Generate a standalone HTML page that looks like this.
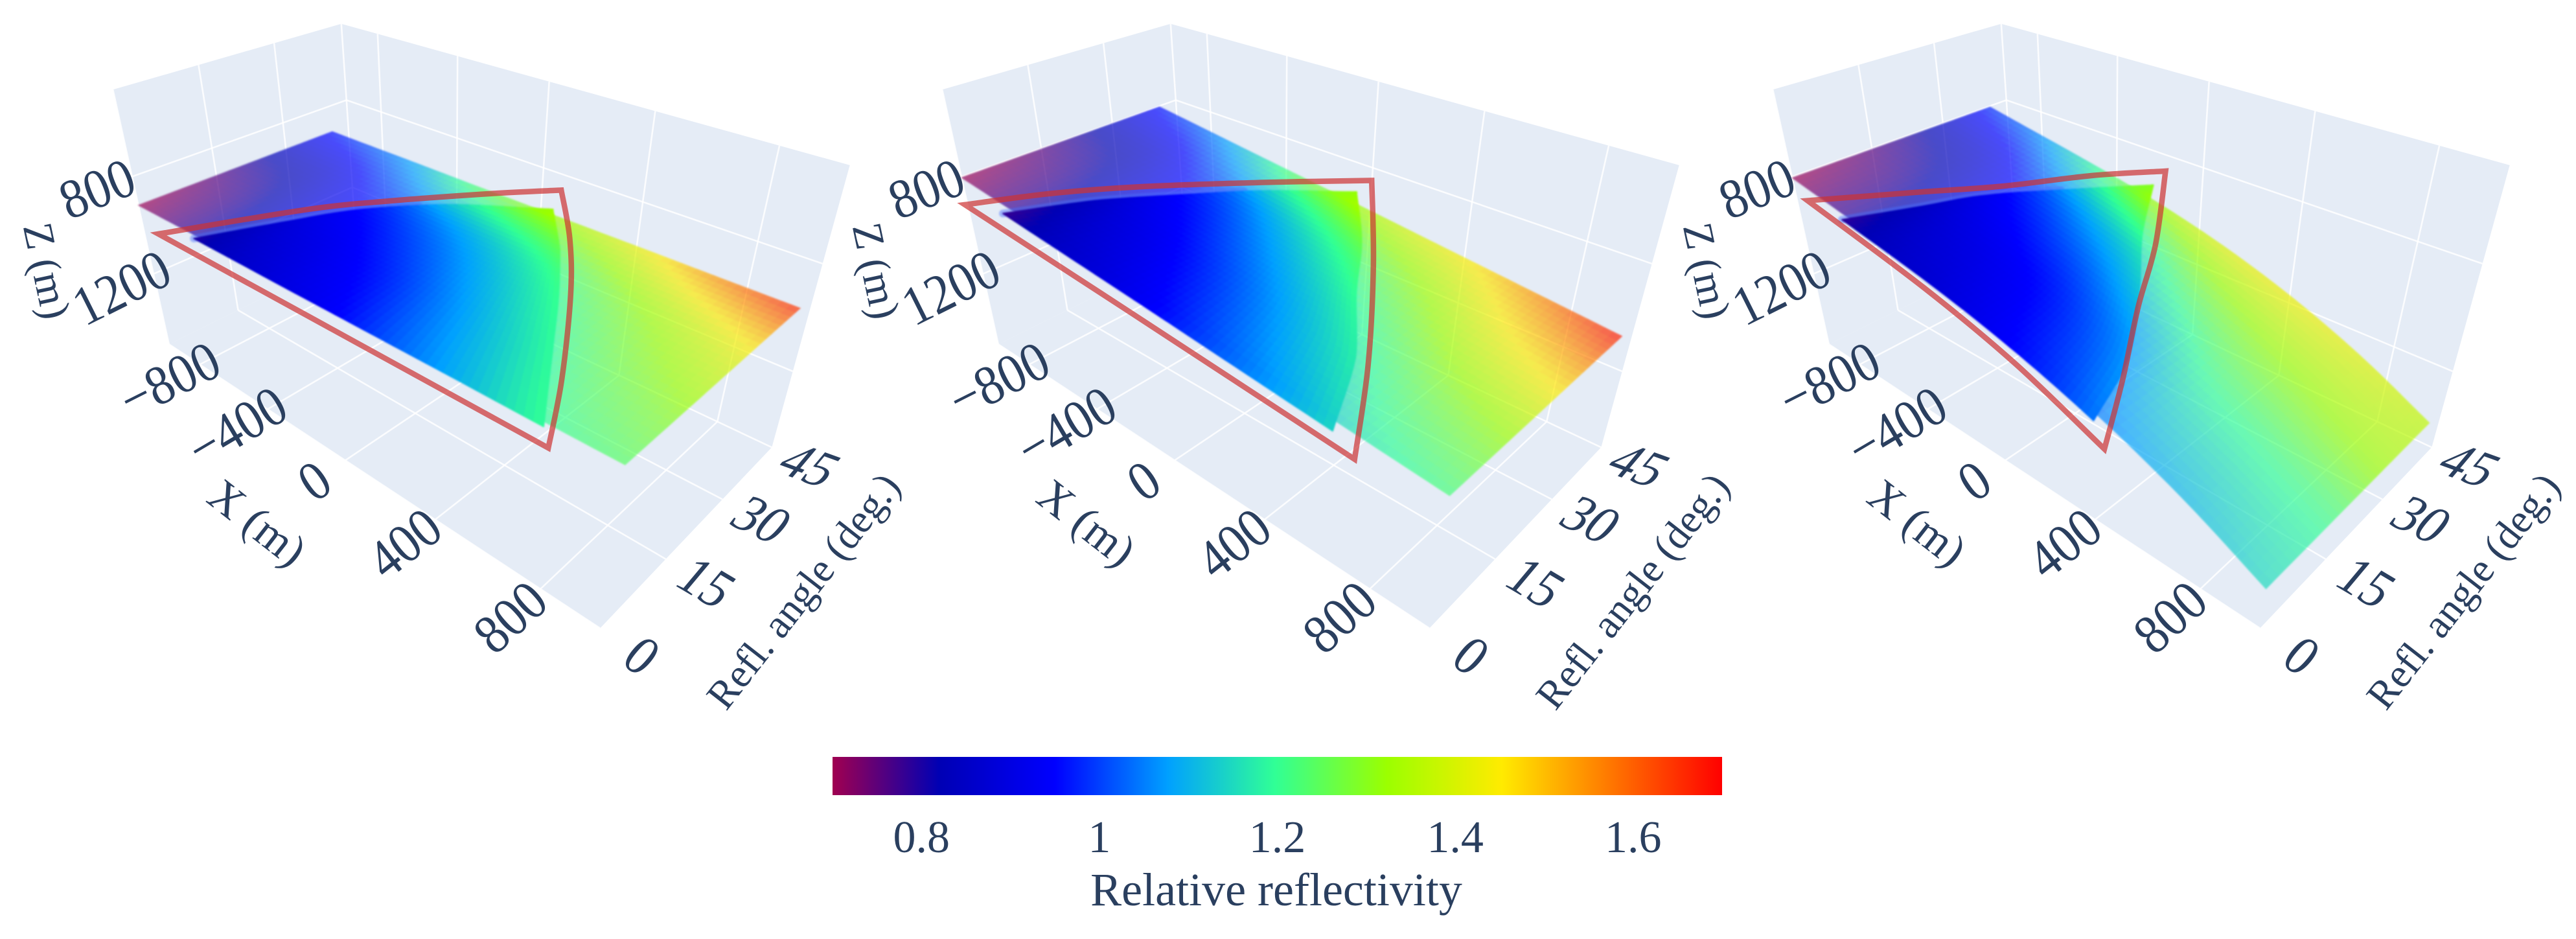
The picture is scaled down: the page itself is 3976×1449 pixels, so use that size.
<!DOCTYPE html>
<html lang="en">
<head>
<meta charset="utf-8">
<title>Relative reflectivity surfaces</title>
<style>
html,body{margin:0;padding:0;background:#fff;}
#chart{position:absolute;left:0;top:0;display:block;}
text{font-family:"Liberation Serif",serif;fill:#2a3f5f;}
.soft{filter:blur(1.4px);}
</style>
</head>
<body>
<svg id="chart" xmlns="http://www.w3.org/2000/svg" width="3976" height="1449" viewBox="0 0 3976 1449">
  <defs><linearGradient id="cbar-gradient" x1="0" x2="1" y1="0" y2="0"></linearGradient></defs>
  <g id="panels"></g>
  <g id="colorbar">
    <rect id="cbar-rect" x="1285" y="1168" width="1373" height="59" fill="url(#cbar-gradient)"></rect>
    <text x="1970" y="1397" font-size="72" text-anchor="middle">Relative reflectivity</text>
  </g>
</svg>
<script>
// ---- axes ----
const xRange = [-1000, 1000];
const angleRange = [0, 45];
const zRange = [486, 1527];
const xTicks = [-800, -400, 0, 400, 800];
const angleTicks = [0, 15, 30, 45];
const zTicks = [800, 1200];
const colorTicks = [0.8, 1, 1.2, 1.4, 1.6];
const colorRange = [0.7, 1.7];
const colorStopValues = [0.7, 0.82, 0.95, 1.077, 1.197, 1.323, 1.452, 1.7];
const colorStopColors = ['#a00050', '#0000b4', '#0000ff', '#00a0ff', '#30ff96', '#9bff00', '#ffeb00', '#ff0000'];

// ---- surface data ----
const surfaceX = [-1000, -750, -500, -250, 0, 250, 500, 750, 1000];
const surfaceAngle = [0, 14, 28, 41];
const depthA = [912, 912, 912, 913, 913, 913, 913, 914, 914];
const depthB = [804, 830, 856, 882, 908, 935, 962, 989, 1016];
const depthC = [805, 843, 881, 923, 975, 1041, 1125, 1231, 1361];
const reflectivityA = [
  [0.70, 0.77, 0.84, 0.89, 0.94, 1.02, 1.10, 1.19, 1.24],
  [0.75, 0.80, 0.89, 0.94, 1.00, 1.08, 1.17, 1.26, 1.33],
  [0.83, 0.87, 0.96, 1.03, 1.10, 1.18, 1.27, 1.36, 1.45],
  [0.96, 1.02, 1.10, 1.22, 1.30, 1.36, 1.44, 1.55, 1.66]
];
const reflectivityB = [
  [0.70, 0.77, 0.84, 0.89, 0.95, 1.02, 1.09, 1.17, 1.22],
  [0.75, 0.80, 0.89, 0.95, 1.02, 1.10, 1.19, 1.28, 1.34],
  [0.83, 0.87, 0.97, 1.05, 1.14, 1.23, 1.32, 1.42, 1.50],
  [0.96, 1.03, 1.13, 1.25, 1.33, 1.40, 1.46, 1.56, 1.68]
];
const reflectivityC = [
  [0.70, 0.77, 0.84, 0.88, 0.93, 0.99, 1.07, 1.11, 1.15],
  [0.75, 0.80, 0.89, 0.94, 0.99, 1.07, 1.17, 1.20, 1.21],
  [0.83, 0.88, 0.98, 1.06, 1.14, 1.24, 1.30, 1.32, 1.33],
  [0.98, 1.05, 1.16, 1.28, 1.37, 1.42, 1.43, 1.41, 1.37]
];

// ---- illuminated fan: x extent per reflection angle ----
const fanAngleA = [-0.7, 11, 22, 33, 42.5];
const fanLeftA = [-651, -530, -405, -200, 90];
const fanRightA = [778, 610, 450, 275, 90];
const fanAngleB = [-1.5, 11, 22, 33, 44];
const fanLeftB = [-716, -590, -434, -265, -48];
const fanRightB = [670, 525, 335, 165, -48];
const fanAngleC = [-1, 10, 20, 32, 44.4];
const fanLeftC = [-690, -600, -520, -370, -210];
const fanRightC = [420, 330, 180, -30, -210];

// ---- aperture outline: x / angle vertices along each side ----
const outlineTopXA = [-765, -537, -370, -145, 20];
const outlineTopAngleA = [-3.4, 16.8, 27.8, 40.6, 49];
const outlineRightXA = [20, 258, 467, 697, 834];
const outlineRightAngleA = [49, 36.5, 23.7, 7.6, -3.2];
const outlineBottomXA = [834, 30, -765];
const outlineBottomAngleA = [-3.2, -3.3, -3.4];
const outlineTopXB = [-840, -720, -555, -310, -65];
const outlineTopAngleB = [-4.2, 7.4, 19.6, 34.8, 49];
const outlineRightXB = [-65, 280, 572, 770];
const outlineRightAngleB = [49, 29.1, 10.8, -3.2];
const outlineBottomXB = [770, -40, -840];
const outlineBottomAngleB = [-3.2, -3.7, -4.2];
const outlineTopXC = [-850, -680, -530, -390, -246];
const outlineTopAngleC = [-1.9, 12, 24, 38, 49.6];
const outlineRightXC = [-246, 30, 200, 370, 500];
const outlineRightAngleC = [49.6, 32, 19, 7, -3];
const outlineBottomXC = [500, 150, -250, -850];
const outlineBottomAngleC = [-3, -2.5, -2.2, -1.9];

// ---- layout ----
const NS = 'http://www.w3.org/2000/svg';
const WALL = '#e5ecf6';
const panelsRoot = document.getElementById('panels');

const panels = [
  { key: 'a', shift: 0, depth: depthA, table: reflectivityA, fanA: fanAngleA, fanL: fanLeftA, fanR: fanRightA,
    top: [outlineTopXA, outlineTopAngleA], right: [outlineRightXA, outlineRightAngleA], bottom: [outlineBottomXA, outlineBottomAngleA] },
  { key: 'b', shift: 1280, depth: depthB, table: reflectivityB, fanA: fanAngleB, fanL: fanLeftB, fanR: fanRightB,
    top: [outlineTopXB, outlineTopAngleB], right: [outlineRightXB, outlineRightAngleB], bottom: [outlineBottomXB, outlineBottomAngleB] },
  { key: 'c', shift: 2562, depth: depthC, table: reflectivityC, fanA: fanAngleC, fanL: fanLeftC, fanR: fanRightC,
    top: [outlineTopXC, outlineTopAngleC], right: [outlineRightXC, outlineRightAngleC], bottom: [outlineBottomXC, outlineBottomAngleC] }
];

// ---- camera calibration from the visible box corners (u: x, v: angle, w: height) ----
function solveCamera(corners) {
  const A = [], b = [];
  corners.forEach(function (c) {
    const X = c[0], Y = c[1], Z = c[2], u = c[3] / 1000, v = c[4] / 1000;
    A.push([X, Y, Z, 1, 0, 0, 0, 0, -u * X, -u * Y, -u * Z]); b.push(u);
    A.push([0, 0, 0, 0, X, Y, Z, 1, -v * X, -v * Y, -v * Z]); b.push(v);
  });
  const n = 11, M = [];
  for (let i = 0; i < n; i++) {
    M.push(new Array(n + 1).fill(0));
    for (let j = 0; j < n; j++) for (let k = 0; k < A.length; k++) M[i][j] += A[k][i] * A[k][j];
    for (let k = 0; k < A.length; k++) M[i][n] += A[k][i] * b[k];
  }
  for (let i = 0; i < n; i++) {
    let p = i;
    for (let r = i + 1; r < n; r++) if (Math.abs(M[r][i]) > Math.abs(M[p][i])) p = r;
    const t = M[i]; M[i] = M[p]; M[p] = t;
    for (let r = 0; r < n; r++) {
      if (r === i) continue;
      const f = M[r][i] / M[i][i];
      for (let c = i; c <= n; c++) M[r][c] -= f * M[i][c];
    }
  }
  return M.map(function (row, i) { return row[n] / row[i]; });
}
const camera = solveCamera([
  [0, 0, 0, 261, 532],
  [1, 0, 0, 925, 970],
  [1, 1, 0, 1192, 689],
  [0, 0, 1, 175, 137],
  [0, 1, 1, 526, 37],
  [1, 1, 1, 1312, 256]
]);

function project(x, angle, z, shift) {
  const X = (x - xRange[0]) / (xRange[1] - xRange[0]);
  const Y = (angle - angleRange[0]) / (angleRange[1] - angleRange[0]);
  const Z = (zRange[1] - z) / (zRange[1] - zRange[0]);
  const d = camera[8] * X + camera[9] * Y + camera[10] * Z + 1;
  return [
    1000 * (camera[0] * X + camera[1] * Y + camera[2] * Z + camera[3]) / d + shift,
    1000 * (camera[4] * X + camera[5] * Y + camera[6] * Z + camera[7]) / d
  ];
}

function locate(arr, v) {
  let i = 0;
  while (i < arr.length - 2 && v > arr[i + 1]) i++;
  const t = (v - arr[i]) / (arr[i + 1] - arr[i]);
  return [i, Math.max(0, Math.min(1, t))];
}
function lerp(a, b, t) { return a + (b - a) * t; }
// smooth (Catmull-Rom) reading of a small x/y table, with straight run-out at the ends
function sampleSmooth(xs, ys, v) {
  const l = locate(xs, v), i = l[0], t = l[1];
  const y1 = ys[i], y2 = ys[i + 1];
  const y0 = i > 0 ? ys[i - 1] : 2 * y1 - y2;
  const y3 = i + 2 < ys.length ? ys[i + 2] : 2 * y2 - y1;
  return 0.5 * (2 * y1 + (y2 - y0) * t + (2 * y0 - 5 * y1 + 4 * y2 - y3) * t * t + (3 * y1 - y0 - 3 * y2 + y3) * t * t * t);
}
function sampleDepth(depth, x) {
  const cx = Math.max(surfaceX[0], Math.min(surfaceX[surfaceX.length - 1], x));
  return sampleSmooth(surfaceX, depth, cx);
}
function sampleTable(table, x, angle) {
  const rows = table.map(function (row) { return sampleSmooth(surfaceX, row, x); });
  return sampleSmooth(surfaceAngle, rows, angle);
}
function hexToRgb(h) {
  return [parseInt(h.slice(1, 3), 16), parseInt(h.slice(3, 5), 16), parseInt(h.slice(5, 7), 16)];
}
const stopRgb = colorStopColors.map(hexToRgb);
function colorFor(v) {
  const l = locate(colorStopValues, v);
  const c0 = stopRgb[l[0]], c1 = stopRgb[l[0] + 1];
  return 'rgb(' + Math.round(lerp(c0[0], c1[0], l[1])) + ',' + Math.round(lerp(c0[1], c1[1], l[1])) + ',' + Math.round(lerp(c0[2], c1[2], l[1])) + ')';
}
function pts(list) {
  return list.map(function (p) { return p[0].toFixed(1) + ',' + p[1].toFixed(1); }).join(' ');
}
function smooth(list) {
  let d = '';
  for (let i = 0; i < list.length - 1; i++) {
    const p0 = list[Math.max(0, i - 1)], p1 = list[i], p2 = list[i + 1], p3 = list[Math.min(list.length - 1, i + 2)];
    const c1 = [p1[0] + (p2[0] - p0[0]) / 6, p1[1] + (p2[1] - p0[1]) / 6];
    const c2 = [p2[0] - (p3[0] - p1[0]) / 6, p2[1] - (p3[1] - p1[1]) / 6];
    d += ' C' + c1[0].toFixed(1) + ' ' + c1[1].toFixed(1) + ' ' + c2[0].toFixed(1) + ' ' + c2[1].toFixed(1) + ' ' + p2[0].toFixed(1) + ' ' + p2[1].toFixed(1);
  }
  return d;
}
function make(tag, parent) {
  const el = document.createElementNS(NS, tag);
  parent.appendChild(el);
  return el;
}
function placeText(el, str, pos, size, beta, gamma, stretch) {
  const b = beta * Math.PI / 180, g = gamma * Math.PI / 180;
  el.textContent = str;
  el.setAttribute('font-size', size);
  el.setAttribute('text-anchor', 'middle');
  el.setAttribute('y', (size * 0.33).toFixed(1));
  el.setAttribute('transform', 'matrix(' + Math.cos(b).toFixed(4) + ' ' + Math.sin(b).toFixed(4) + ' ' +
    (-Math.sin(g) * stretch).toFixed(4) + ' ' + (Math.cos(g) * stretch).toFixed(4) + ' ' + pos[0].toFixed(1) + ' ' + pos[1].toFixed(1) + ')');
}

function gridLine(parent, a, b, name) {
  const el = make('line', parent);
  
  
  el.setAttribute('x1', a[0].toFixed(1));
  el.setAttribute('y1', a[1].toFixed(1));
  el.setAttribute('x2', b[0].toFixed(1));
  el.setAttribute('y2', b[1].toFixed(1));
  el.setAttribute('stroke', '#ffffff');
  el.setAttribute('stroke-width', '2.6');
  el.setAttribute('stroke-opacity', '0.85');
}

function drawPanel(p) {
  const s = p.shift, floorZ = zRange[1], roofZ = zRange[0];
  const xMin = xRange[0], xMax = xRange[1], aMin = angleRange[0], aMax = angleRange[1];
  const g = make('g', panelsRoot);
  
  

  // walls
  const wallLeft = make('polygon', g);
  
  
  wallLeft.setAttribute('fill', WALL);
  wallLeft.setAttribute('points', pts([project(xMin, aMin, roofZ, s), project(xMin, aMax, roofZ, s), project(xMin, aMax, floorZ, s), project(xMin, aMin, floorZ, s)]));
  const wallBack = make('polygon', g);
  
  
  wallBack.setAttribute('fill', WALL);
  wallBack.setAttribute('points', pts([project(xMin, aMax, roofZ, s), project(xMax, aMax, roofZ, s), project(xMax, aMax, floorZ, s), project(xMin, aMax, floorZ, s)]));
  const floor = make('polygon', g);
  
  
  floor.setAttribute('fill', WALL);
  floor.setAttribute('points', pts([project(xMin, aMin, floorZ, s), project(xMin, aMax, floorZ, s), project(xMax, aMax, floorZ, s), project(xMax, aMin, floorZ, s)]));

  // gridlines
  const grid = make('g', g);
  
  
  xTicks.forEach(function (x) {
    gridLine(grid, project(x, aMin, floorZ, s), project(x, aMax, floorZ, s), 'x-grid-floor');
    gridLine(grid, project(x, aMax, floorZ, s), project(x, aMax, roofZ, s), 'x-grid-wall');
  });
  angleTicks.forEach(function (a) {
    gridLine(grid, project(xMin, a, floorZ, s), project(xMax, a, floorZ, s), 'angle-grid-floor');
    gridLine(grid, project(xMin, a, floorZ, s), project(xMin, a, roofZ, s), 'angle-grid-wall');
  });
  zTicks.forEach(function (z) {
    gridLine(grid, project(xMin, aMin, z, s), project(xMin, aMax, z, s), 'z-grid-left');
    gridLine(grid, project(xMin, aMax, z, s), project(xMax, aMax, z, s), 'z-grid-back');
  });

  // translucent surface
  const surf = make('g', g);
  
  
  surf.setAttribute('opacity', '0.68');
  surf.setAttribute('class', 'soft');
  const nu = 72, nv = 30;
  const sx0 = surfaceX[0], sx1 = surfaceX[surfaceX.length - 1], sa0 = surfaceAngle[0], sa1 = surfaceAngle[surfaceAngle.length - 1];
  for (let i = 0; i < nu; i++) {
    for (let j = 0; j < nv; j++) {
      const x0 = lerp(sx0, sx1, i / nu), x1 = lerp(sx0, sx1, (i + 1) / nu);
      const a0 = lerp(sa0, sa1, j / nv), a1 = lerp(sa0, sa1, (j + 1) / nv);
      const c = colorFor(sampleTable(p.table, (x0 + x1) / 2, (a0 + a1) / 2));
      const cell = make('polygon', surf);
      
      
      cell.setAttribute('fill', c);
      cell.setAttribute('stroke', c);
      cell.setAttribute('stroke-width', '1');
      cell.setAttribute('points', pts([
        project(x0, a0, sampleDepth(p.depth, x0), s), project(x1, a0, sampleDepth(p.depth, x1), s),
        project(x1, a1, sampleDepth(p.depth, x1), s), project(x0, a1, sampleDepth(p.depth, x0), s)]));
    }
  }

  // illuminated fan
  const fan = make('g', g);
  
  
  fan.setAttribute('class', 'soft');
  const fanRows = 40, fanCols = 48;
  const fa0 = p.fanA[0], fa1 = p.fanA[p.fanA.length - 1];
  function fanPoint(r, c) {
    const a = lerp(fa0, fa1, r / fanRows);
    const x = lerp(sampleSmooth(p.fanA, p.fanL, a), sampleSmooth(p.fanA, p.fanR, a), c / fanCols);
    return [x, a];
  }
  // pale rim along the upper side of the fan
  const haloPts = [];
  for (let r = 0; r <= Math.round(fanRows * 0.7); r += 2) {
    const q = fanPoint(r, 0);
    haloPts.push(project(q[0], q[1], sampleDepth(p.depth, q[0]), s));
  }
  const halo = make('polyline', fan);
  
  
  halo.setAttribute('fill', 'none');
  halo.setAttribute('stroke', 'rgb(70,110,255)');
  halo.setAttribute('stroke-opacity', '0.45');
  halo.setAttribute('stroke-width', '12');
  halo.setAttribute('stroke-linecap', 'round');
  halo.setAttribute('points', pts(haloPts));
  for (let r = 0; r < fanRows; r++) {
    for (let c = 0; c < fanCols; c++) {
      const q00 = fanPoint(r, c), q10 = fanPoint(r, c + 1), q11 = fanPoint(r + 1, c + 1), q01 = fanPoint(r + 1, c);
      const col = colorFor(sampleTable(p.table, (q00[0] + q11[0]) / 2, (q00[1] + q11[1]) / 2));
      const cell = make('polygon', fan);
      
      
      cell.setAttribute('fill', col);
      cell.setAttribute('stroke', col);
      cell.setAttribute('stroke-width', '2');
      cell.setAttribute('stroke-linejoin', 'round');
      cell.setAttribute('points', pts([
        project(q00[0], q00[1], sampleDepth(p.depth, q00[0]), s), project(q10[0], q10[1], sampleDepth(p.depth, q10[0]), s),
        project(q11[0], q11[1], sampleDepth(p.depth, q11[0]), s), project(q01[0], q01[1], sampleDepth(p.depth, q01[0]), s)]));
    }
  }

  // aperture outline
  function side(pair) {
    return pair[0].map(function (x, i) {
      return project(x, pair[1][i], sampleDepth(p.depth, x), s);
    });
  }
  const topPts = side(p.top), rightPts = side(p.right), bottomPts = side(p.bottom);
  const outline = make('path', g);
  
  
  outline.setAttribute('fill', 'none');
  outline.setAttribute('stroke', 'rgb(205,50,50)');
  outline.setAttribute('stroke-opacity', '0.7');
  outline.setAttribute('stroke-width', '8.5');
  outline.setAttribute('stroke-linejoin', 'miter');
  outline.setAttribute('d', 'M' + topPts[0][0].toFixed(1) + ' ' + topPts[0][1].toFixed(1) + smooth(topPts) + smooth(rightPts) + smooth(bottomPts) + 'Z');

  // tick labels
  const labels = make('g', g);
  
  
  xTicks.forEach(function (x) {
    const t = make('text', labels);
    
    
    const rot = -34.4 - x / 800 * 7.7;
    placeText(t, String(x).replace('-', '\u2212'), project(x, -6, floorZ, s), 78, rot, rot, 1.1);
  });
  angleTicks.forEach(function (a) {
    const t = make('text', labels);
    
    
    placeText(t, String(a), project(1130, a, floorZ, s), 78, 36 - a / 45 * 16, 40, 1.12);
  });
  zTicks.forEach(function (z) {
    const t = make('text', labels);
    
    
    const rot = -22 - (z - 800) / 400 * 4.6;
    placeText(t, String(z), project(xMin, -6, z, s), 78, rot, rot, 1.1);
  });

  const xTitle = make('text', labels);
  
  
  placeText(xTitle, 'X (m)', [397 + s, 807], 70, 38, 38, 1);
  const aTitle = make('text', labels);
  
  
  placeText(aTitle, 'Refl. angle (deg.)', [1240 + s, 912], 63, -52, -52, 1);
  const zTitle = make('text', labels);
  
  
  placeText(zTitle, 'Z (m)', [72 + s, 418], 65, 78, 78, 1);
}
panels.forEach(drawPanel);

// ---- colorbar ----
const cbarGrad = document.getElementById('cbar-gradient');
colorStopValues.forEach(function (v, i) {
  const st = document.createElementNS(NS, 'stop');
  st.setAttribute('offset', ((v - colorRange[0]) / (colorRange[1] - colorRange[0])).toFixed(4));
  st.setAttribute('stop-color', colorStopColors[i]);
  cbarGrad.appendChild(st);
});
const cbarGroup = document.getElementById('colorbar');
colorTicks.forEach(function (v) {
  const t = make('text', cbarGroup);
  
  
  t.setAttribute('x', (1285 + 1373 * (v - colorRange[0]) / (colorRange[1] - colorRange[0])).toFixed(1));
  t.setAttribute('y', '1315');
  t.setAttribute('font-size', '70');
  t.setAttribute('text-anchor', 'middle');
  t.textContent = String(v);
});
</script>
</body>
</html>
